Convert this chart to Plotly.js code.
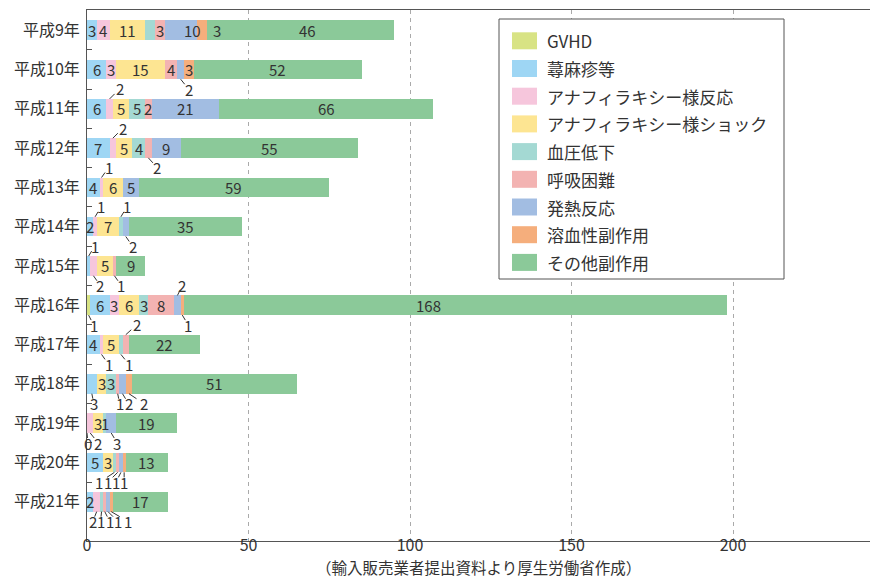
<!DOCTYPE html>
<html><head><meta charset="utf-8">
<script src="https://cdn.plot.ly/plotly-3.0.1.min.js"></script>
<style>html,body{margin:0;padding:0;background:#fff}#chart{width:870px;height:578px}</style>
</head><body><div id="chart"></div>
<script>
// ---- data ----
const years = ['平成9年','平成10年','平成11年','平成12年','平成13年','平成14年','平成15年','平成16年','平成17年','平成18年','平成19年','平成20年','平成21年'];
const seriesNames = ['GVHD','蕁麻疹等','アナフィラキシー様反応','アナフィラキシー様ショック','血圧低下','呼吸困難','発熱反応','溶血性副作用','その他副作用'];
const gvhd        = [0, 0, 0, 0, 0, 0, 0, 1, 0, 0, 0, 0, 0];
const urticaria   = [3, 6, 6, 7, 4, 2, 1, 6, 4, 3, 0, 5, 2];
const anaReaction = [4, 3, 2, 2, 1, 1, 2, 3, 1, 0, 2, 0, 2];
const anaShock    = [11,15, 5, 5, 6, 7, 5, 6, 5, 3, 3, 3, 0];
const hypotension = [3, 0, 5, 4, 0, 1, 0, 3, 1, 3, 1, 1, 1];
const dyspnea     = [3, 4, 2, 2, 0, 0, 1, 8, 2, 1, 0, 1, 1];
const fever       = [10,2,21, 9, 5, 2, 0, 2, 0, 2, 3, 1, 1];
const hemolytic   = [3, 3, 0, 0, 0, 0, 0, 1, 0, 2, 0, 1, 1];
const other       = [58,52,66,55,59,35, 9,168,22,51,19,13,17];
const otherLabels = ['46','52','66','55','59','35','9','168','22','51','19','13','17'];
const xTicks = [0, 50, 100, 150, 200];
const caption = '（輸入販売業者提出資料より厚生労働省作成）';

// ---- style ----
const colors = ['#d8e384','#9ed6f4','#f6c6dc','#fde592','#a4d9d3','#f3b3b2','#a2bde2','#f5ae7c','#8bc999'];
const FONT = 'Noto Sans CJK JP, Noto Sans, sans-serif';
const TXT = '#333333';
// label placement per row (series order): i = inside, u = callout above, d = callout below, - = none
const labelModes = ['-iii-iiii','-iii-idii','-iuiiii-i','-iuiidi-i','-iui--i-i','-iuiu-d-i','-udi-d--i',
                    'diiiiiudi','-ididu--i','-d-iidddi','-ddii-d-i','-i-iddddi','-id-ddddi'];
const calloutDx = [[],[8],[10],[10,9],[7],[6,6,7],[6,7,7],[5,5,6],[7,8,11],[2,2,6,15],[1,8,6],[-15,-10,-5,0],[-4,-1,5,10,17]];
const inlineShift = {'0,6':12,'0,7':15,'0,8':7,'7,8':-27};

const series = [gvhd, urticaria, anaReaction, anaShock, hypotension, dyspnea, fever, hemolytic, other];

const traces = series.map((vals, s) => ({
  type:'bar', orientation:'h', name:seriesNames[s], y:years, x:vals,
  marker:{color:colors[s], line:{width:0}}, hoverinfo:'skip', showlegend:false
}));

const PL=87, PT=10, PW=783, PH=531;
const px2x = p => (p-PL)/PW;
const py2y = p => (PT+PH-p)/PH;

const annotations = [];
const shapes = [];
const HALF = 0.25, DY = 10;
years.forEach((yr, r) => {
  let cum = 0, ci = 0;
  series.forEach((vals, s) => {
    const v = vals[r];
    const mode = labelModes[r][s];
    const c = cum + v/2;
    const txt = s === 8 ? otherLabels[r] : String(v);
    if (mode === 'i') {
      annotations.push({x:c, y:r, xref:'x', yref:'y', text:txt, showarrow:false,
        xshift: inlineShift[r+','+s] || 0, font:{family:FONT, size:15, color:TXT}});
    } else if (mode === 'u' || mode === 'd') {
      const dx = calloutDx[r][ci++];
      const up = mode === 'u';
      const yEdge = r + (up ? -HALF : HALF);
      const sgn = up ? 1 : -1; // pixel offsets: positive = upward
      annotations.push({x:c, y:yEdge, xref:'x', yref:'y', text:txt, showarrow:false,
        xshift:dx, yshift:sgn*DY, font:{family:FONT, size:15, color:TXT}});
      shapes.push({type:'line', xref:'x', yref:'y', xsizemode:'pixel', ysizemode:'pixel',
        xanchor:c, yanchor:yEdge, x0:0, y0:0, x1:dx*0.5, y1:sgn*DY*0.5,
        line:{color:TXT, width:1}});
    }
    cum += v;
  });
});

// custom legend
shapes.push({type:'rect', xref:'paper', yref:'paper', x0:px2x(499), x1:px2x(784), y0:py2y(279), y1:py2y(19),
  line:{color:'#555', width:1}, fillcolor:'#ffffff', layer:'above'});
seriesNames.forEach((n, k) => {
  const top = 32.3 + 27.7*k;
  shapes.push({type:'rect', xref:'paper', yref:'paper', x0:px2x(512), x1:px2x(537), y0:py2y(top+17), y1:py2y(top),
    line:{width:0}, fillcolor:colors[k], layer:'above'});
  annotations.push({xref:'paper', yref:'paper', x:px2x(545), y:py2y(top+8.5), xanchor:'left', yanchor:'middle',
    text:n, showarrow:false, font:{family:FONT, size:17, color:TXT}});
});

annotations.push({xref:'paper', yref:'paper', x:0.5, y:py2y(567), xanchor:'center', yanchor:'middle',
  text:caption, showarrow:false, borderpad:0, font:{family:FONT, size:15.5, color:TXT}});

const layout = {
  width:870, height:578, margin:{l:PL, r:0, t:PT, b:578-PT-PH, pad:0},
  paper_bgcolor:'#fff', plot_bgcolor:'#fff',
  barmode:'stack', bargap:0.5, showlegend:false,
  xaxis:{range:[0, 242.4], tickvals:xTicks, ticktext:xTicks.map(String), showgrid:true,
    gridcolor:'#aaaaaa', griddash:'4px,4px', gridwidth:1, zeroline:false, showline:true, mirror:true,
    linecolor:'#555', linewidth:1, ticks:'', ticklabelstandoff:-10, tickfont:{family:FONT, size:16, color:TXT}, fixedrange:true},
  yaxis:{type:'category', range:[12.997, -0.511], autorange:false, showgrid:false, zeroline:false,
    showline:true, linecolor:'#555', linewidth:1, ticks:'inside', ticklen:5, tickcolor:'#555',
    tickson:'boundaries', ticklabelstandoff:3, tickfont:{family:FONT, size:16, color:TXT}, fixedrange:true},
  annotations, shapes
};

Plotly.newPlot('chart', traces, layout, {staticPlot:true, displayModeBar:false});
</script>
</body></html>
